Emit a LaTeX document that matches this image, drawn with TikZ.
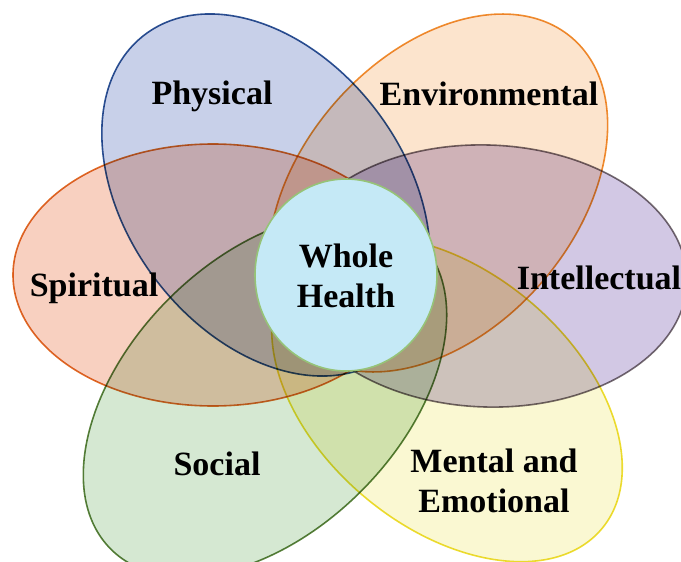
\documentclass[tikz,border=0pt]{standalone}
\usepackage{fontspec}
\setmainfont{Liberation Serif}
\usetikzlibrary{positioning}

\definecolor{physfill}{RGB}{200,208,233}
\definecolor{physline}{RGB}{47,85,151}
\definecolor{envfill}{RGB}{252,228,205}
\definecolor{envline}{RGB}{240,145,50}
\definecolor{spirfill}{RGB}{248,208,192}
\definecolor{spirline}{RGB}{225,110,40}
\definecolor{intfill}{RGB}{210,200,228}
\definecolor{intline}{RGB}{120,110,115}
\definecolor{socfill}{RGB}{213,232,210}
\definecolor{socline}{RGB}{90,130,60}
\definecolor{mentfill}{RGB}{250,248,210}
\definecolor{mentline}{RGB}{238,222,50}
\definecolor{wholefill}{RGB}{197,233,246}
\definecolor{wholeline}{RGB}{150,195,120}

\begin{document}
\begin{tikzpicture}[x=0.5pt, y=-0.5pt,
    petal/.style={line width=0.8pt},
    title/.style={font=\fontsize{17}{20}\selectfont\bfseries,
      align=center, inner sep=0pt}]

  \useasboundingbox (0,0) rectangle (681,562);

  % PETALS

  \begin{scope}[blend mode=multiply]
    \draw[petal, draw=physline, fill=physfill, rotate around={127:(266,195)}]
      (266,195) ellipse [x radius=201, y radius=139];
    \draw[petal, draw=envline, fill=envfill, rotate around={49:(438,193)}]
      (438,193) ellipse [x radius=205, y radius=137];
    \draw[petal, draw=spirline, fill=spirfill]
      (213,275) ellipse [x radius=200, y radius=131];
    \draw[petal, draw=intline, fill=intfill, rotate around={-2:(487,276)}]
      (487,276) ellipse [x radius=200, y radius=131];
    \draw[petal, draw=socline, fill=socfill, rotate around={45:(265,395)}]
      (265,395) ellipse [x radius=218, y radius=136];
    \draw[petal, draw=mentline, fill=mentfill, rotate around={140:(447,399)}]
      (447,399) ellipse [x radius=202, y radius=128];
  \end{scope}

  % CENTRE

  \draw[line width=0.8pt, draw=wholeline, fill=wholefill]
    (346,275) ellipse [x radius=91, y radius=96];

  % LABELS

  \node[title] (whole) at (346,276) {Whole\\Health};
  \node[title] (physical) at (212,96) {Physical};
  \node[title] (environmental) at (489,94) {Environmental};
  \node[title] (spiritual) at (94,288) {Spiritual};
  \node[title] (intellectual) at (599,278) {Intellectual};
  \node[title] (social) at (217,464) {Social};
  \node[title] (mental) at (494,481) {Mental and\\Emotional};

\end{tikzpicture}
\end{document}
